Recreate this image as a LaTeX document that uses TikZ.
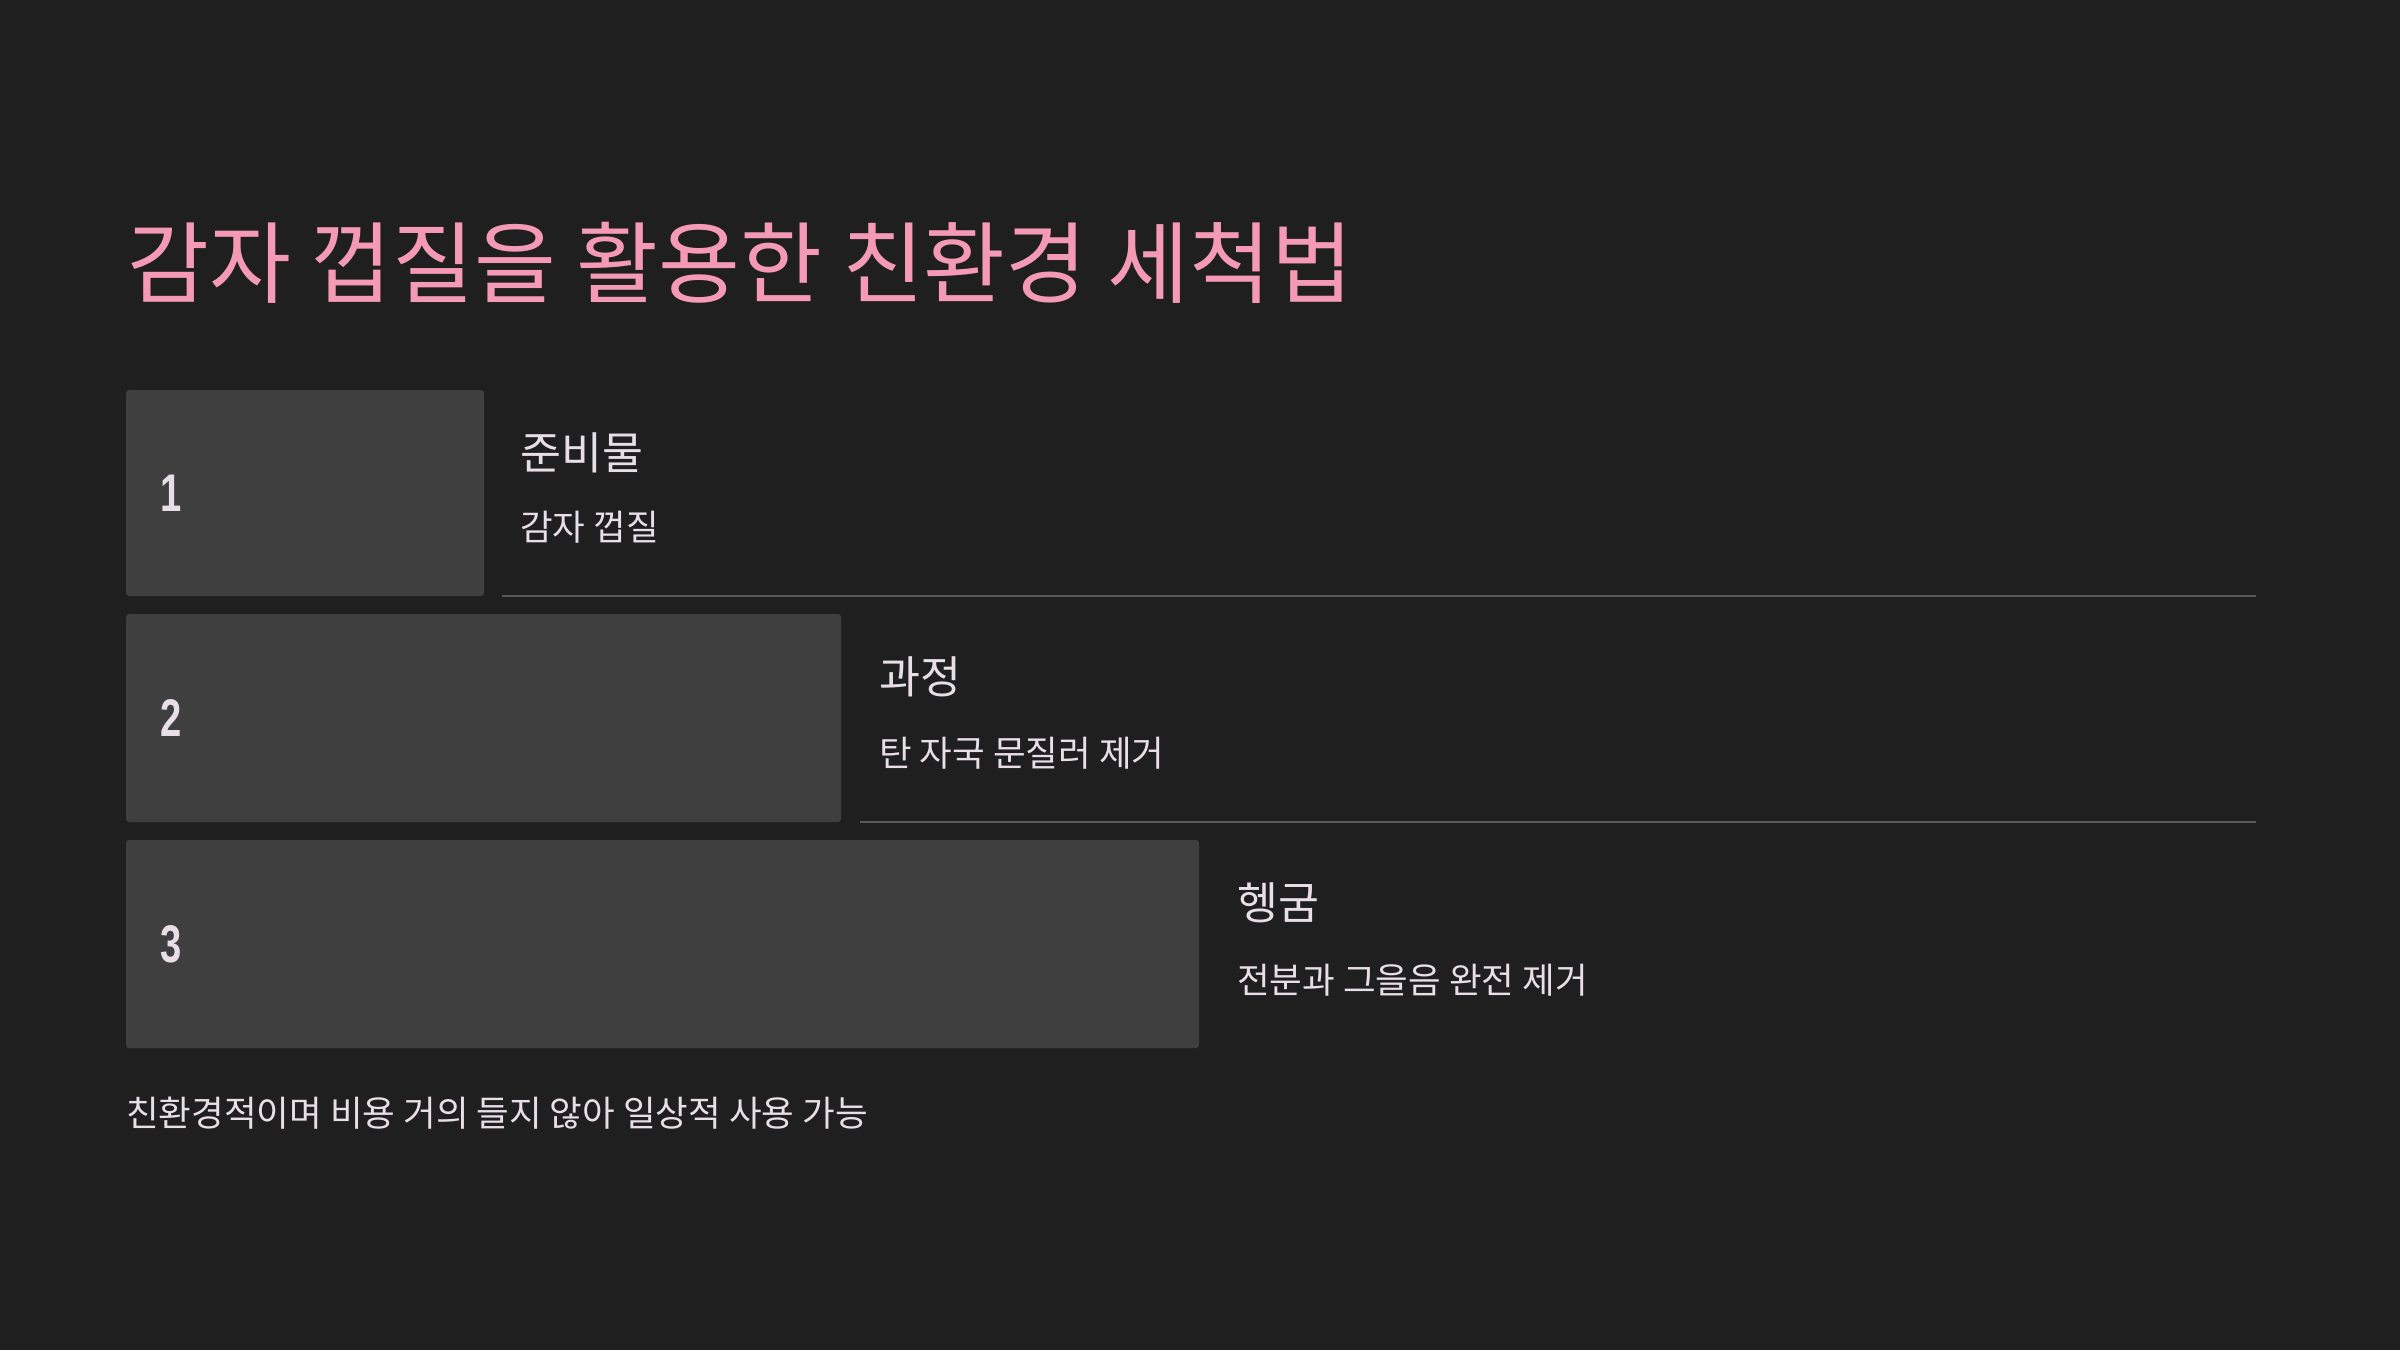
\documentclass[tikz,border=0pt]{standalone}
\usepackage{fontspec}
\usepackage{graphicx}
\newfontfamily\kr{Noto Sans CJK KR}
\newfontfamily\numfont{Liberation Sans}
\definecolor{bgc}{HTML}{1F1F1F}
\definecolor{boxc}{HTML}{3F3F3F}
\definecolor{linec}{HTML}{5A5A5A}
\definecolor{titlec}{HTML}{F59AB6}
\definecolor{textc}{HTML}{E8DEE6}
\tikzset{
  stepbox/.style={fill=boxc, rounded corners=3pt, draw=none},
  sepline/.style={draw=linec, line width=2pt},
  titletext/.style={anchor=west, inner sep=0pt, text=titlec, font=\kr\fontsize{89}{100}\selectfont},
  headtext/.style={anchor=west, inner sep=0pt, text=textc, font=\kr\fontsize{44.5}{52}\selectfont},
  subtext/.style={anchor=west, inner sep=0pt, text=textc, font=\kr\fontsize{35.5}{42}\selectfont},
  numtext/.style={anchor=west, inner sep=0pt, text=textc, font=\numfont\bfseries\fontsize{53}{60}\selectfont},
}
\begin{document}
\begin{tikzpicture}[x=1pt, y=-1pt]
\fill[bgc] (0,0) rectangle (2400,1350);
\useasboundingbox (0,0) rectangle (2400,1350);

\node[titletext] (title) at (127,263) {감자 껍질을 활용한 친환경 세척법};

% step 1
\path[stepbox] (126,390) rectangle (484,596);
\node[numtext] (n1) at (160,493) {\scalebox{0.72}[1]{1}};
\node[headtext] (h1) at (520,453) {준비물};
\node[subtext] (s1) at (520,527) {감자 껍질};
\coordinate (l1a) at (502,596);
\coordinate (l1b) at (2256,596);
\draw[sepline] (l1a) -- (l1b);

% step 2
\path[stepbox] (126,614) rectangle (841,822);
\node[numtext] (n2) at (160,718) {\scalebox{0.72}[1]{2}};
\node[headtext] (h2) at (879,677) {과정};
\node[subtext] (s2) at (879,753) {탄 자국 문질러 제거};
\coordinate (l2a) at (860,822);
\coordinate (l2b) at (2256,822);
\draw[sepline] (l2a) -- (l2b);

% step 3
\path[stepbox] (126,840) rectangle (1199,1048);
\node[numtext] (n3) at (160,944) {\scalebox{0.72}[1]{3}};
\node[headtext] (h3) at (1237,903) {헹굼};
\node[subtext] (s3) at (1237,980) {전분과 그을음 완전 제거};

\node[subtext] (foot) at (126,1113) {친환경적이며 비용 거의 들지 않아 일상적 사용 가능};
\end{tikzpicture}
\end{document}
